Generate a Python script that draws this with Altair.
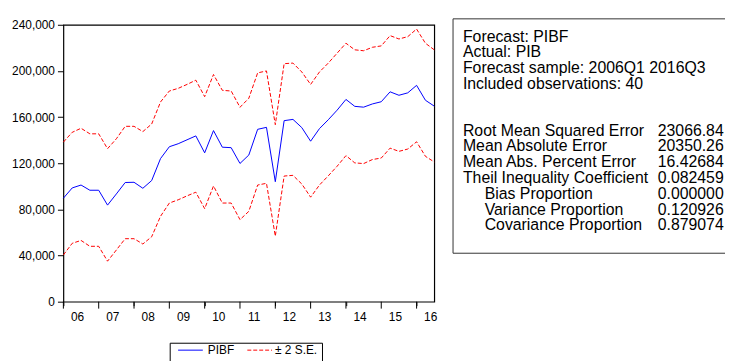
import altair as alt
import pandas as pd

# ---- data (2006Q1 .. 2016Q3, 43 quarters) ----
quarter_index = list(range(43))
pibf = [89.7, 98.6, 101.1, 96.6, 96.6, 83.7, 93.4, 103.3, 103.5, 98.3,
        105.0, 124.0, 134.3, 136.9, 140.3, 143.7, 129.0, 148.3, 133.9, 133.5,
        119.8, 127.1, 149.4, 151.1, 104.0, 156.9, 158.0, 150.9, 139.1, 150.0,
        157.7, 166.0, 175.3, 169.3, 168.6, 171.4, 173.3, 181.9, 178.9, 181.0,
        187.5, 174.6, 169.5]
upper = [138.3, 146.8, 150.3, 145.5, 145.5, 132.6, 141.2, 152.0, 152.0, 147.4,
         154.0, 173.1, 182.6, 184.9, 188.3, 192.0, 177.7, 196.9, 183.2, 182.6,
         168.5, 176.3, 198.3, 200.0, 153.4, 206.3, 206.8, 199.1, 188.3, 199.1,
         206.8, 215.4, 224.0, 218.3, 217.5, 220.5, 221.7, 230.6, 227.7, 229.7,
         236.3, 224.0, 218.3]
lower = [40.5, 50.6, 53.1, 48.0, 48.0, 35.1, 44.8, 54.6, 54.6, 50.0,
         56.3, 74.0, 85.5, 88.3, 91.7, 94.9, 80.6, 100.3, 85.5, 85.5,
         71.1, 78.3, 101.1, 102.6, 56.8, 108.9, 109.5, 102.0, 90.6, 101.1,
         109.1, 117.4, 126.6, 120.3, 119.7, 123.2, 124.5, 133.1, 130.3, 132.3,
         138.6, 126.0, 121.1]
year_labels = ["06", "07", "08", "09", "10", "11", "12", "13", "14", "15", "16"]
year_start_index = [0, 4, 8, 12, 16, 20, 24, 28, 32, 36, 40]
y_ticks = [0, 40000, 80000, 120000, 160000, 200000, 240000]

header_lines = ["Forecast: PIBF", "Actual: PIB",
                "Forecast sample: 2006Q1 2016Q3", "Included observations: 40"]
stat_names = ["Root Mean Squared Error", "Mean Absolute Error",
              "Mean Abs. Percent Error", "Theil Inequality Coefficient",
              "Bias Proportion", "Variance Proportion", "Covariance Proportion"]
stat_values = ["23066.84", "20350.26", "16.42684", "0.082459",
               "0.000000", "0.120926", "0.879074"]
stat_indent = [False, False, False, False, True, True, True]

FONT = "Liberation Sans"
W, H = 375, 280

df = pd.DataFrame({
    "idx": quarter_index,
    "pibf": [v * 1000 for v in pibf],
    "upper": [v * 1000 for v in upper],
    "lower": [v * 1000 for v in lower],
})

xscale = alt.Scale(domain=[0, 42], nice=False, zero=False)
yscale = alt.Scale(domain=[0, 240000], nice=False)

x_enc = alt.X("idx:Q", scale=xscale,
              axis=alt.Axis(values=quarter_index, tickSize=4, labels=False,
                            domain=False, grid=False, title=None,
                            tickColor="black", tickWidth=1))


def y_enc(field):
    return alt.Y(f"{field}:Q", scale=yscale,
                 axis=alt.Axis(values=y_ticks, format=",d", tickSize=6,
                               labelFontSize=12, labelPadding=3, domain=False,
                               grid=False, title=None, labelFont=FONT,
                               labelColor="black", tickColor="black"))


base = alt.Chart(df)
upper_line = base.mark_line(color="#ff0000", strokeWidth=1, strokeDash=[4, 2]).encode(
    x=x_enc, y=y_enc("upper"))
lower_line = base.mark_line(color="#ff0000", strokeWidth=1, strokeDash=[4, 2]).encode(
    x=x_enc, y=y_enc("lower"))
pibf_line = base.mark_line(color="#0000ff", strokeWidth=1).encode(
    x=x_enc, y=y_enc("pibf"))

years_df = pd.DataFrame({"start": year_start_index, "label": year_labels})
year_ticks = alt.Chart(years_df).mark_rule(color="black", strokeWidth=1).encode(
    x=alt.X("start:Q", scale=xscale), y=alt.value(H), y2=alt.value(H + 7))
year_text = alt.Chart(years_df).transform_calculate(
    mid="datum.start + 1.6").mark_text(
    font=FONT, fontSize=12, color="black", baseline="middle", align="center").encode(
    x=alt.X("mid:Q", scale=xscale), y=alt.value(H + 16), text="label:N")

layers = [upper_line, lower_line, pibf_line, year_ticks, year_text]

# ---- statistics box (page coords minus plot origin 64,23) ----
one = pd.DataFrame({"a": [0]})
box = alt.Chart(one).mark_rect(
    fill="white", stroke="#333333", strokeWidth=1).encode(
    x=alt.value(394), x2=alt.value(720), y=alt.value(-6), y2=alt.value(231))
layers.append(box)

TX = 404
FS = 16
for k, line in enumerate(header_lines):
    layers.append(alt.Chart(one).mark_text(
        font=FONT, fontSize=FS, align="left", baseline="middle", color="black").encode(
        x=alt.value(TX), y=alt.value(12 + 16 * k), text=alt.value(line)))
for k, (name, val, ind) in enumerate(zip(stat_names, stat_values, stat_indent)):
    yy = 107 + 16 * k
    layers.append(alt.Chart(one).mark_text(
        font=FONT, fontSize=FS, align="left", baseline="middle", color="black").encode(
        x=alt.value(TX + 22 if ind else TX), y=alt.value(yy), text=alt.value(name)))
    layers.append(alt.Chart(one).mark_text(
        font=FONT, fontSize=FS, align="left", baseline="middle", color="black").encode(
        x=alt.value(601), y=alt.value(yy), text=alt.value(val)))

# ---- legend ----
layers.append(alt.Chart(one).mark_rect(fill="white", stroke="black", strokeWidth=1).encode(
    x=alt.value(108), x2=alt.value(262), y=alt.value(322), y2=alt.value(350)))
layers.append(alt.Chart(one).mark_rule(color="#0000ff", strokeWidth=1).encode(
    x=alt.value(116), x2=alt.value(141), y=alt.value(329)))
layers.append(alt.Chart(one).mark_text(font=FONT, fontSize=12, align="left",
                                       baseline="middle", color="black").encode(
    x=alt.value(146), y=alt.value(329), text=alt.value("PIBF")))
layers.append(alt.Chart(one).mark_rule(color="#ff0000", strokeWidth=1, strokeDash=[4, 2]).encode(
    x=alt.value(186), x2=alt.value(211), y=alt.value(329)))
layers.append(alt.Chart(one).mark_text(font=FONT, fontSize=12, align="left",
                                       baseline="middle", color="black").encode(
    x=alt.value(214), y=alt.value(329), text=alt.value("± 2 S.E.")))

chart = alt.layer(*layers).properties(
    width=W, height=H,
    autosize=alt.AutoSizeParams(type="none"),
    padding={"left": 56, "top": 15, "right": 294, "bottom": 58},
    background="white",
).configure_view(stroke="black", strokeWidth=1.2)

chart.save("out.html", embed_options={"renderer": "svg", "actions": False})
